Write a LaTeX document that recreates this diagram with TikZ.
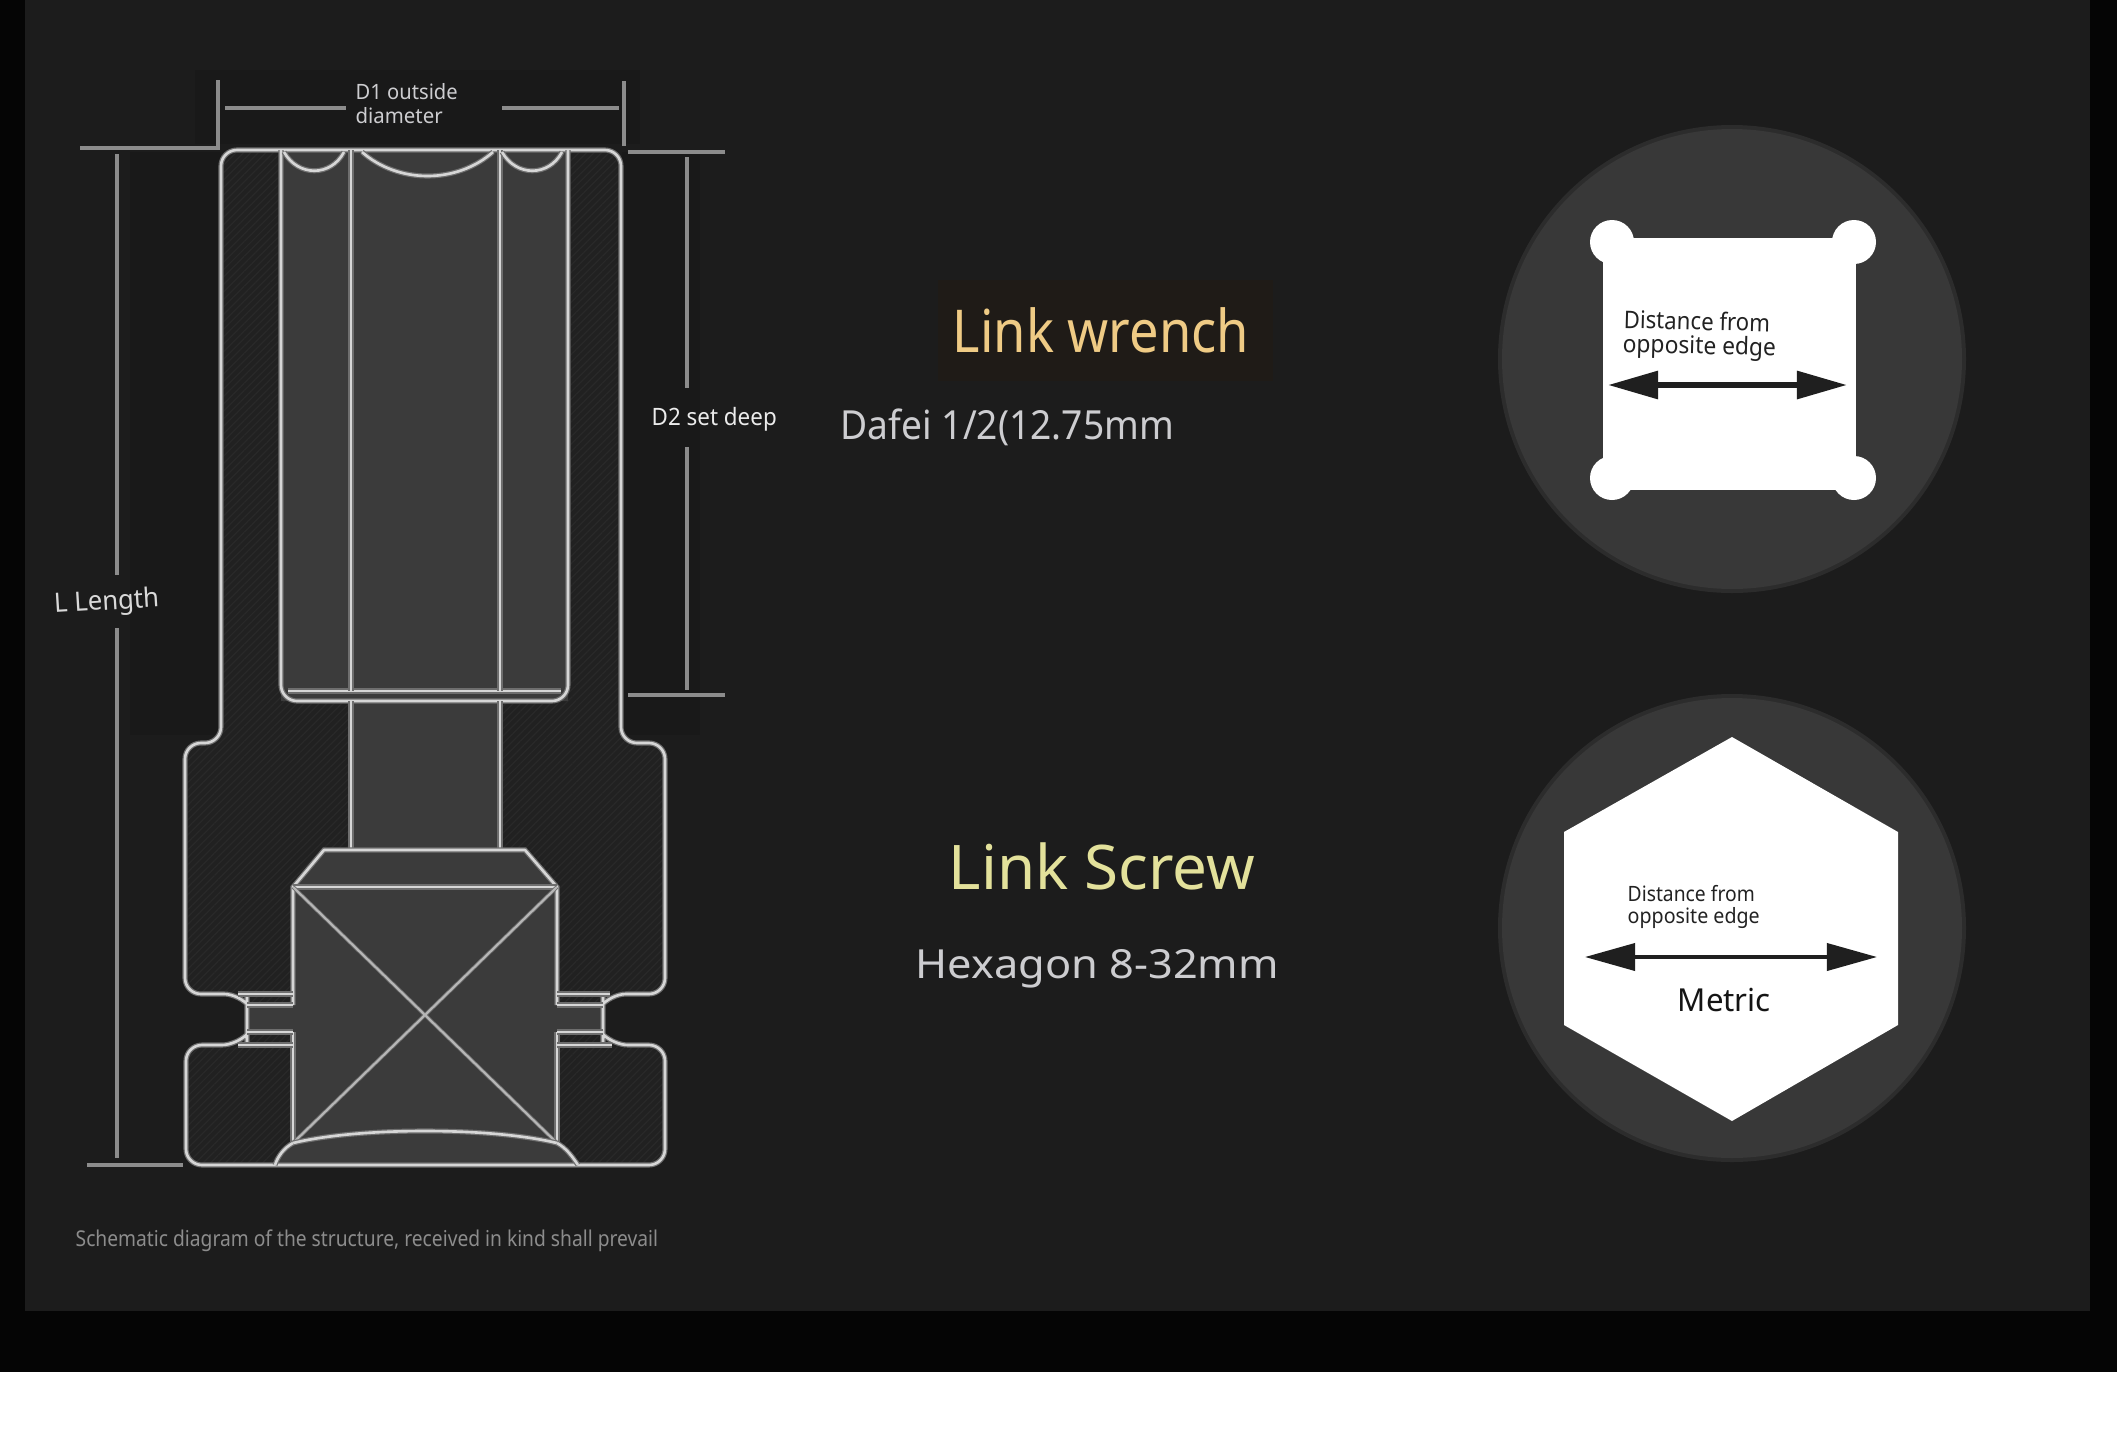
\documentclass[tikz,border=0pt]{standalone}
\usepackage{fontspec}
\usepackage{graphicx}
\usetikzlibrary{arrows.meta,patterns.meta}
\setmainfont{Noto Sans}
\definecolor{panel}{HTML}{1C1C1C}
\definecolor{dimzone}{HTML}{191919}
\definecolor{backdrop}{HTML}{1F1B17}
\definecolor{solid}{HTML}{212121}
\definecolor{hatch}{HTML}{292929}
\definecolor{bore}{HTML}{3B3B3B}
\definecolor{ring}{HTML}{383838}
\definecolor{ringedge}{HTML}{2C2C2C}
\definecolor{drawing}{HTML}{D6D6D6}
\definecolor{halo}{HTML}{6E6E6E}
\definecolor{dimline}{HTML}{8C8C8C}
\definecolor{gold}{HTML}{EFCB85}
\definecolor{straw}{HTML}{E3E19B}
\definecolor{silver}{HTML}{CDCDD0}
\definecolor{ink}{HTML}{222222}
\newcommand\lbl[3]{\resizebox{#1}{\height}{\fontsize{#2pt}{#2pt}\selectfont #3}}
\tikzset{
  px/.style={x=0.01cm,y=-0.01cm},
  ln/.style={draw=drawing,line width=0.75pt,line join=round,preaction={draw=halo,line width=1.45pt}},
  thinln/.style={draw=drawing!85!black,line width=0.6pt,preaction={draw=halo,line width=1.1pt}},
  dimln/.style={draw=dimline,line width=1pt},
  txt/.style={inner sep=0pt,anchor=base west},
  bihead/.style={{Triangle[length=0.5cm,width=0.27cm]}-{Triangle[length=0.5cm,width=0.27cm]},draw=black!88,fill=black!88},
  hatched/.style={pattern={Lines[angle=45,distance=1.5pt,line width=0.35pt]},pattern color=hatch}
}
\def\bodypath{
  (221,400) -- (221,150) -- (621,150) -- (621,743) -- (665,743) -- (665,994) -- (610,994)
  .. controls (604,1002) and (603,1007) .. (603,1012) -- (603,1026)
  .. controls (603,1032) and (606,1038) .. (612,1045)
  -- (665,1045) -- (665,1165) -- (186,1165) -- (186,1045) -- (238,1045)
  .. controls (244,1038) and (247,1032) .. (247,1026) -- (247,1012)
  .. controls (247,1007) and (246,1002) .. (240,994)
  -- (185,994) -- (185,743) -- (221,743) -- cycle}
\begin{document}
\begin{tikzpicture}[px]
\useasboundingbox (0,0) rectangle (2117,1448);
% page, frame and panel
\fill[white] (0,0) rectangle (2117,1448);
\fill[black!98] (0,0) rectangle (2117,1372);
\fill[panel] (25,0) rectangle (2090,1311);
\fill[dimzone] (195,70) rectangle (640,144);
\fill[dimzone] (130,152) rectangle (221,735);
\fill[dimzone] (622,152) rectangle (700,735);
\fill[backdrop] (938,280) rectangle (1273,381);
% socket body, solid section
\path[rounded corners=0.16cm,fill=solid,postaction={hatched}] \bodypath;
% bore
\fill[bore] (281,150) -- (568,150) -- (568,701) -- (499,701) -- (499,850) -- (525,850) -- (557,887)
  -- (557,1143) -- (578,1165) -- (275,1165) -- (293,1143) -- (293,887) -- (324,850) -- (351,850) -- (351,701) -- (281,701) -- cycle;
% neck cavities
\fill[bore] (247,1005) rectangle (293,1032);
\fill[bore] (557,1005) rectangle (603,1032);
% outer outline
\draw[ln,rounded corners=0.16cm] \bodypath;
% bore outline
\draw[ln,rounded corners=0.16cm] (281,150) -- (281,701) -- (568,701) -- (568,150);
\draw[ln] (288,691) -- (561,691);
\draw[ln] (351,150) -- (351,691) (351,701) -- (351,850);
\draw[ln] (500,150) -- (500,691) (500,701) -- (500,850);
\draw[ln] (284,152) .. controls (298,177) and (331,177) .. (344,152);
\draw[ln] (362,152) .. controls (398,184) and (457,184) .. (493,152);
\draw[ln] (502,152) .. controls (516,177) and (549,177) .. (562,152);
% drive square
\draw[ln] (293,1005) -- (293,887) -- (324,850) -- (525,850) -- (557,887) -- (557,1005);
\draw[ln] (293,887) -- (557,887);
\draw[ln] (293,1032) -- (293,1143) (557,1032) -- (557,1143);
\draw[thinln] (293,887) -- (557,1143) (557,887) -- (293,1143);
\draw[ln] (293,1143) .. controls (360,1127) and (490,1127) .. (557,1143);
\draw[ln] (293,1143) .. controls (284,1148) and (278,1156) .. (275,1165);
\draw[ln] (557,1143) .. controls (566,1148) and (572,1156) .. (578,1165);
% neck lines
\draw[ln] (238,994) -- (293,994) (247,1005) -- (293,1005) (247,1032) -- (293,1032) (238,1045) -- (293,1045);
\draw[ln] (557,994) -- (610,994) (557,1005) -- (603,1005) (557,1032) -- (603,1032) (557,1045) -- (612,1045);
% dimension lines
\draw[dimln] (80,148) -- (218,148) -- (218,80);
\draw[dimln] (225,108) -- (346,108) (502,108) -- (619,108);
\draw[dimln] (624,81) -- (624,146);
\draw[dimln] (628,152) -- (725,152) (628,695) -- (725,695);
\draw[dimln] (687,157) -- (687,388) (687,447) -- (687,690);
\draw[dimln] (117,154) -- (117,575) (117,628) -- (117,1158);
\draw[dimln] (87,1165) -- (183,1165);
% dimension labels
\node[txt,text=silver] (d1a) at (355,99) {\lbl{1.02cm}{6}{D1 outside}};
\node[txt,text=silver] (d1b) at (355,123) {\lbl{0.87cm}{6}{diameter}};
\node[txt,text=white!92!black] (d2) at (651,425) {\lbl{1.25cm}{6.8}{D2 set deep}};
\node[txt,text=white!85!black,rotate=3.5] (ll) at (54,613) {\lbl{1.05cm}{7.6}{L Length}};
\node[txt,text=white!55!black] (cap) at (75,1246) {\lbl{5.82cm}{6.2}{Schematic diagram of the structure, received in kind shall prevail}};
% middle titles
\node[txt,text=gold] (t1) at (952,352) {\lbl{2.96cm}{16.8}{Link wrench}};
\node[txt,text=silver] (s1) at (840,439) {\lbl{3.33cm}{11.4}{Dafei 1/2(12.75mm}};
\node[txt,text=straw] (t2) at (948,889) {\lbl{3.06cm}{17.5}{Link Screw}};
\node[txt,text=silver] (s2) at (915,978) {\lbl{3.63cm}{11.4}{Hexagon 8-32mm}};
% upper circle
\fill[ringedge] (1732,359) circle (234);
\fill[ring] (1732,359) circle (230);
\fill[white] (1603,238) rectangle (1856,490);
\fill[white] (1612,242) circle (22) (1854,242) circle (22) (1612,478) circle (22) (1854,478) circle (22);
\node[txt,text=ink,rotate=-1.5] (q1) at (1623,328) {\lbl{1.46cm}{6.9}{Distance from}};
\node[txt,text=ink,rotate=-1.5] (q2) at (1622,352) {\lbl{1.53cm}{6.9}{opposite edge}};
\coordinate (qa) at (1608,385);
\coordinate (qb) at (1847,385);
\draw[bihead,line width=1.7pt] (qa) -- (qb);
% lower circle
\fill[ringedge] (1732,928) circle (234);
\fill[ring] (1732,928) circle (230);
\fill[white] (1732,737) -- (1898,832) -- (1898,1025) -- (1732,1121) -- (1564,1025) -- (1564,832) -- cycle;
\node[txt,text=ink] (h1) at (1627,901) {\lbl{1.27cm}{6}{Distance from}};
\node[txt,text=ink] (h2) at (1627,923) {\lbl{1.32cm}{6}{opposite edge}};
\node[txt,text=ink!60!black] (h3) at (1677,1011) {\lbl{0.93cm}{9}{Metric}};
\coordinate (ha) at (1585,957);
\coordinate (hb) at (1877,957);
\draw[bihead,line width=1.05pt] (ha) -- (hb);
\end{tikzpicture}
\end{document}
